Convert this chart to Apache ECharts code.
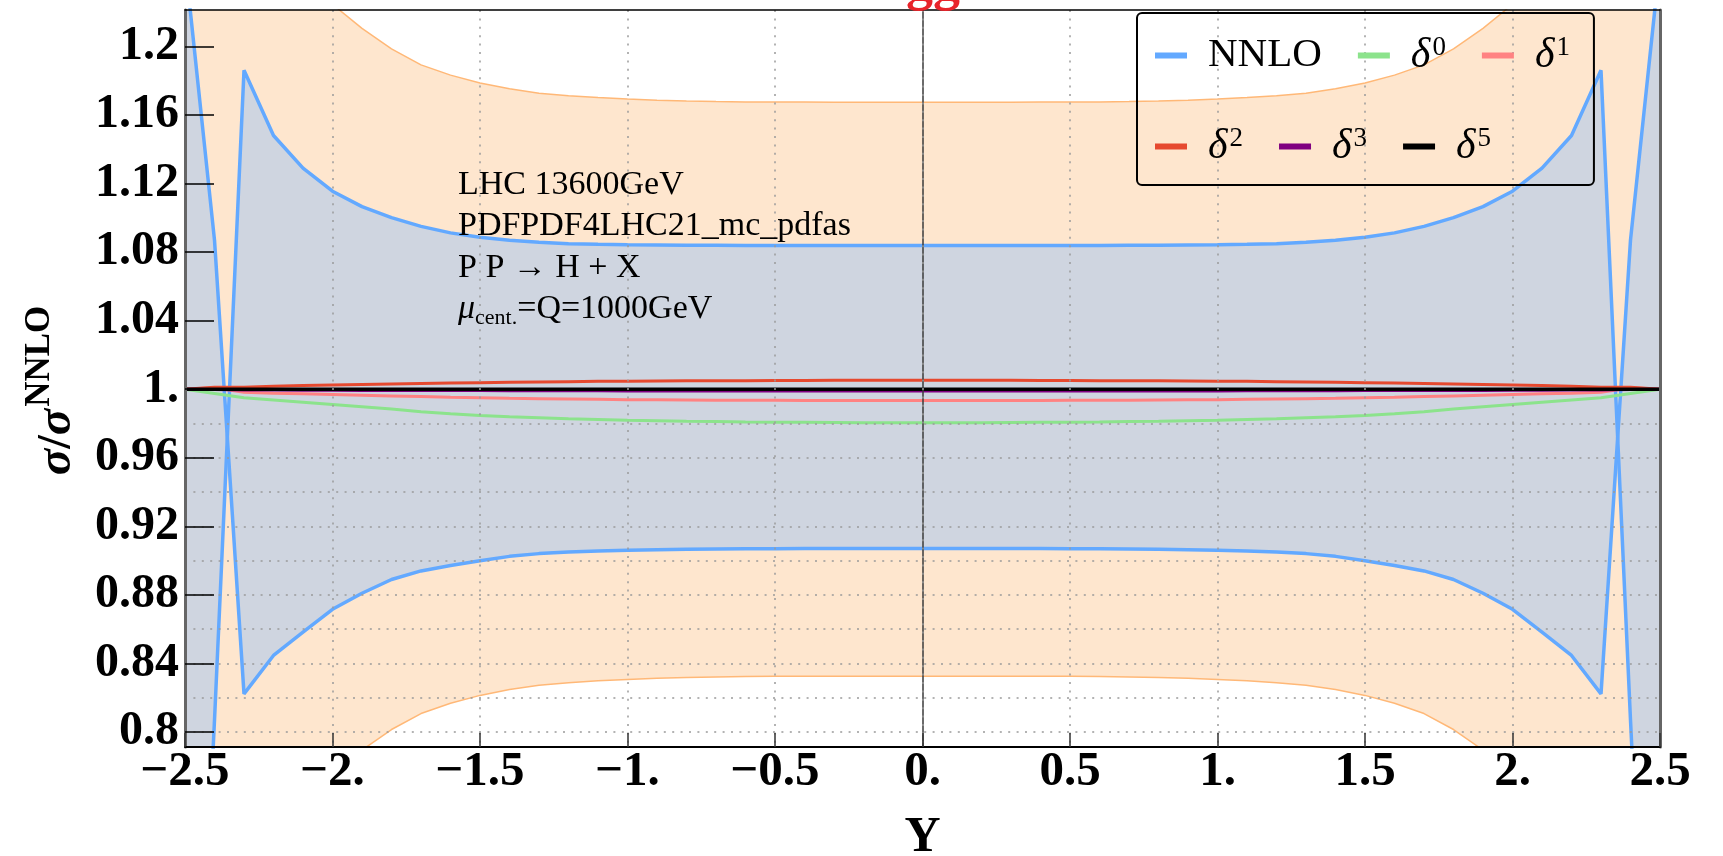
<!DOCTYPE html>
<html><head><meta charset="utf-8">
<script src="https://cdn.jsdelivr.net/npm/echarts@6.0.0/dist/echarts.min.js"></script>
<style>html,body{margin:0;padding:0;background:#fff}#c{width:1723px;height:856px}</style>
</head><body><div id="c"></div>
<script>
// ---------- data ----------
const xs = [-2.5,-2.4,-2.3,-2.2,-2.1,-2.0,-1.9,-1.8,-1.7,-1.6,-1.5,-1.4,-1.3,-1.2,-1.1,-1.0,-0.9,-0.8,-0.7,-0.6,-0.5,-0.4,-0.3,-0.2,-0.1,0,
            0.1,0.2,0.3,0.4,0.5,0.6,0.7,0.8,0.9,1.0,1.1,1.2,1.3,1.4,1.5,1.6,1.7,1.8,1.9,2.0,2.1,2.2,2.3,2.4,2.5];

// NNLO band edges
const nnloUpper = [0.45,0.807,1.186,1.148,1.129,1.1155,1.1065,1.1001,1.0950,1.0912,1.0887,1.0869,1.0857,1.0849,1.0845,1.0842,1.0841,1.0840,1.0840,1.0839,1.0839,1.0839,1.0839,1.0839,1.0839,1.0839,
                   1.0839,1.0839,1.0839,1.0839,1.0839,1.0839,1.0840,1.0840,1.0841,1.0842,1.0845,1.0849,1.0857,1.0869,1.0887,1.0912,1.0950,1.1001,1.1065,1.1155,1.129,1.148,1.186,0.807,0.45];
const nnloLower = [1.25,1.087,0.8223,0.8447,0.8583,0.8716,0.8810,0.8890,0.8940,0.8972,0.9000,0.9025,0.9041,0.9051,0.9057,0.9061,0.9064,0.9066,0.9068,0.9069,0.9070,0.9071,0.9071,0.9071,0.9071,0.9071,
                   0.9071,0.9071,0.9071,0.9071,0.9070,0.9069,0.9068,0.9066,0.9064,0.9061,0.9057,0.9051,0.9041,0.9025,0.9000,0.8972,0.8940,0.8890,0.8810,0.8716,0.8583,0.8447,0.8223,1.087,1.25];

// scale-variation band (orange)
const scaleUpper = [1.50,1.39,1.32,1.275,1.245,1.2245,1.2105,1.1985,1.1892,1.1832,1.1786,1.1752,1.1727,1.1712,1.1701,1.1693,1.1686,1.1681,1.1678,1.1676,1.1675,1.1675,1.1674,1.1674,1.1674,1.1674,
                    1.1674,1.1674,1.1674,1.1675,1.1675,1.1676,1.1678,1.1681,1.1686,1.1693,1.1701,1.1712,1.1727,1.1752,1.1786,1.1832,1.1892,1.1985,1.2105,1.2245,1.245,1.275,1.32,1.39,1.50];
const scaleLower = [0.50,0.61,0.68,0.725,0.755,0.7755,0.7895,0.8015,0.8108,0.8168,0.8214,0.8248,0.8273,0.8288,0.8299,0.8307,0.8314,0.8319,0.8322,0.8324,0.8325,0.8325,0.8326,0.8326,0.8326,0.8326,
                    0.8326,0.8326,0.8326,0.8325,0.8325,0.8324,0.8322,0.8319,0.8314,0.8307,0.8299,0.8288,0.8273,0.8248,0.8214,0.8168,0.8108,0.8015,0.7895,0.7755,0.755,0.725,0.68,0.61,0.50];

const delta0 = [1.0,0.9975,0.9950,0.9937,0.9924,0.9911,0.9898,0.9884,0.9869,0.9857,0.9847,0.9839,0.9833,0.9827,0.9823,0.9819,0.9816,0.9813,0.9811,0.9809,0.9808,0.9807,0.9806,0.9805,0.9805,0.9805,
                0.9805,0.9805,0.9806,0.9807,0.9808,0.9809,0.9811,0.9813,0.9816,0.9819,0.9823,0.9827,0.9833,0.9839,0.9847,0.9857,0.9869,0.9884,0.9898,0.9911,0.9924,0.9937,0.9950,0.9975,1.0];
const delta1 = [1.0,1.0008,0.9982,0.9977,0.9973,0.9969,0.9965,0.9961,0.9957,0.9953,0.9950,0.9947,0.9945,0.9943,0.9941,0.9939,0.9938,0.9937,0.9936,0.9935,0.9935,0.9934,0.9934,0.9934,0.9934,0.9934,
                0.9934,0.9934,0.9934,0.9934,0.9935,0.9935,0.9936,0.9937,0.9938,0.9939,0.9941,0.9943,0.9945,0.9947,0.9950,0.9953,0.9957,0.9961,0.9965,0.9969,0.9973,0.9977,0.9982,1.0008,1.0];
const delta2 = [1.0,1.0012,1.0012,1.0017,1.0021,1.0025,1.0028,1.0031,1.0034,1.0036,1.0038,1.0040,1.0042,1.0044,1.0046,1.0047,1.0048,1.0049,1.0050,1.0050,1.0051,1.0051,1.0052,1.0052,1.0052,1.0052,
                1.0052,1.0052,1.0052,1.0051,1.0051,1.0050,1.0050,1.0049,1.0048,1.0047,1.0046,1.0044,1.0042,1.0040,1.0038,1.0036,1.0034,1.0031,1.0028,1.0025,1.0021,1.0017,1.0012,1.0012,1.0];
const delta3 = [1.0,0.9998,0.9996,0.9995,0.9994,0.9994,0.9993,0.9993,0.9992,0.9992,0.9992,0.9991,0.9991,0.9991,0.9991,0.9990,0.9990,0.9990,0.9990,0.9990,0.9990,0.9990,0.9990,0.9990,0.9990,0.9990,
                0.9990,0.9990,0.9990,0.9990,0.9990,0.9990,0.9990,0.9990,0.9990,0.9990,0.9991,0.9991,0.9991,0.9991,0.9992,0.9992,0.9992,0.9993,0.9993,0.9994,0.9994,0.9995,0.9996,0.9998,1.0];
const delta5 = [1,1,1,1,1,1,1,1,1,1,1,1,1,1,1,1,1,1,1,1,1,1,1,1,1,1,
                1,1,1,1,1,1,1,1,1,1,1,1,1,1,1,1,1,1,1,1,1,1,1,1,1];

const xTicks = [-2.5,-2,-1.5,-1,-0.5,0,0.5,1,1.5,2,2.5];
const xTickLabels = ['\u22122.5','\u22122.','\u22121.5','\u22121.','\u22120.5','0.','0.5','1.','1.5','2.','2.5'];
const yTicks = [0.8,0.84,0.88,0.92,0.96,1.0,1.04,1.08,1.12,1.16,1.2];
const yTickLabels = ['0.8','0.84','0.88','0.92','0.96','1.','1.04','1.08','1.12','1.16','1.2'];
const yGrid = [0.8,0.82,0.84,0.86,0.88,0.9,0.92,0.94,0.96,0.98];

const annotations = ['LHC 13600GeV','PDFPDF4LHC21_mc_pdfas','P P \u2192 H + X'];
const topTitle = 'gg';

// ---------- helpers ----------
const SERIF = "'Liberation Serif', 'Times New Roman', serif";
function lookup(vals, labels) {
  return function (v) {
    for (let i = 0; i < vals.length; i++) if (Math.abs(vals[i] - v) < 1e-6) return labels[i];
    return '';
  };
}
function pairs(ys) { return xs.map((x, i) => [x, ys[i]]); }
function bandRender(lo, hi, fill) {
  return function (params, api) {
    if (params.dataIndex !== 0) return null;
    const pts = [];
    for (let i = 0; i < xs.length; i++) pts.push(api.coord([xs[i], hi[i]]));
    for (let i = xs.length - 1; i >= 0; i--) pts.push(api.coord([xs[i], lo[i]]));
    return { type: 'polygon', shape: { points: pts }, style: { fill: fill, stroke: null } };
  };
}
function lineSeries(name, ys, color, width, z) {
  return {
    name: name, type: 'line', data: pairs(ys), symbol: 'none', showSymbol: false, clip: true,
    lineStyle: { color: color, width: width }, itemStyle: { color: color }, z: z, silent: true
  };
}

const YMIN = 0.7913, YMAX = 1.2212;
const BLUE = '#63A9FF';

const chart = echarts.init(document.getElementById('c'), null, { renderer: 'canvas' });
const option = {
  animation: false,
  backgroundColor: '#fff',
  grid: { left: 185, right: 63, top: 10, bottom: 109, show: false, containLabel: false, outerBoundsMode: 'none' },
  xAxis: [
    {
      type: 'value', min: -2.5, max: 2.5, position: 'bottom', z: 6,
      axisLine: { show: true, onZero: false, lineStyle: { color: '#000', width: 2 } },
      axisTick: { show: true, inside: true, length: 14, customValues: xTicks, lineStyle: { color: '#333', width: 1.5 } },
      axisLabel: { customValues: xTicks, formatter: lookup(xTicks, xTickLabels), margin: 1,
                   fontFamily: SERIF, fontWeight: 'bold', fontSize: 49, color: '#000' },
      splitLine: { show: true, lineStyle: { color: '#9a9a9a', width: 1.5, type: [2, 6.4] } },
      name: 'Y', nameLocation: 'middle', nameGap: 66,
      nameTextStyle: { fontFamily: SERIF, fontWeight: 'bold', fontSize: 50, color: '#000' }
    },
    {
      type: 'value', min: -2.5, max: 2.5, position: 'top', z: 6,
      axisLine: { show: true, onZero: false, lineStyle: { color: '#000', width: 1.5 } },
      axisTick: { show: false }, axisLabel: { show: false }, splitLine: { show: false }
    }
  ],
  yAxis: [
    {
      type: 'value', min: YMIN, max: YMAX, position: 'left', z: 6,
      axisLine: { show: true, onZero: false, lineStyle: { color: '#666', width: 3 } },
      axisTick: { show: true, inside: true, length: 29, customValues: yTicks, lineStyle: { color: '#000', width: 1.5 } },
      axisLabel: { customValues: yTicks, formatter: lookup(yTicks, yTickLabels), margin: 6,
                   fontFamily: SERIF, fontWeight: 'bold', fontSize: 48, color: '#000' },
      splitLine: { show: false },
      name: '{i|\u03C3}{b|/}{i|\u03C3}{p|NNLO}', nameLocation: 'middle', nameGap: 103, nameRotate: 90,
      nameTextStyle: {
        color: '#000', padding: [0, 24, 0, 0],
        rich: {
          i: { fontFamily: SERIF, fontStyle: 'italic', fontWeight: 'bold', fontSize: 49, lineHeight: 60, verticalAlign: 'bottom' },
          b: { fontFamily: SERIF, fontWeight: 'bold', fontSize: 49, lineHeight: 60, verticalAlign: 'bottom' },
          p: { fontFamily: SERIF, fontWeight: 'bold', fontSize: 35, lineHeight: 34, verticalAlign: 'top', padding: [0, 0, 0, 2] }
        }
      }
    },
    {
      type: 'value', min: YMIN, max: YMAX, position: 'right', z: 6,
      axisLine: { show: true, onZero: false, lineStyle: { color: '#666', width: 3 } },
      axisTick: { show: false, customValues: yGrid },
      axisLabel: { show: false, customValues: yGrid },
      splitLine: { show: true, lineStyle: { color: '#9a9a9a', width: 1.5, type: [2, 6.4] } }
    }
  ],
  legend: {
    data: ['NNLO', '\u03B40', '\u03B41', '\u03B42', '\u03B43', '\u03B45'],
    left: 1137, top: 13, width: 430, orient: 'horizontal', z: 10,
    itemWidth: 32, itemHeight: 6, itemGap: 36, icon: 'rect',
    padding: [15, 24, 11, 18],
    borderColor: '#000', borderWidth: 2, borderRadius: 5, backgroundColor: 'transparent',
    selectedMode: false,
    formatter: function (name) {
      if (name === 'NNLO') return '{g| }{t|NNLO}';
      return '{g| }{d|\u03B4}{s|' + name.slice(1) + '}';
    },
    textStyle: {
      color: '#000', fontFamily: SERIF, fontSize: 41, lineHeight: 55,
      rich: {
        g: { width: 16, fontSize: 10, lineHeight: 55 },
        t: { fontFamily: SERIF, fontSize: 41, lineHeight: 55 },
        d: { fontFamily: SERIF, fontStyle: 'italic', fontSize: 42, lineHeight: 55 },
        s: { fontFamily: SERIF, fontSize: 27, lineHeight: 27, verticalAlign: 'top', padding: [6, 0, 0, 2] }
      }
    }
  },
  graphic: [
    { type: 'text', x: 933, y: 12, z: 20, style: { text: topTitle, font: 'bold 54px ' + SERIF, fill: '#E8242B', align: 'center', verticalAlign: 'bottom' } },
    { type: 'text', left: 458, top: 168, z: 20, style: { text: annotations[0], font: '34px ' + SERIF, fill: '#000' } },
    { type: 'text', left: 458, top: 209, z: 20, style: { text: annotations[1], font: '34px ' + SERIF, fill: '#000' } },
    { type: 'text', left: 458, top: 251, z: 20, style: { text: annotations[2], font: '34px ' + SERIF, fill: '#000' } },
    { type: 'text', left: 458, top: 292, z: 20, style: {
        text: '{m|\u03BC}{c|cent.}{n|=Q=1000GeV}', fill: '#000', font: '34px ' + SERIF,
        rich: {
          m: { fontFamily: SERIF, fontStyle: 'italic', fontSize: 34, lineHeight: 40 },
          c: { fontFamily: SERIF, fontSize: 22, lineHeight: 26, verticalAlign: 'bottom' },
          n: { fontFamily: SERIF, fontSize: 34, lineHeight: 40 }
        }
      } }
  ],
  series: [
    {
      name: 'scale band', type: 'custom', clip: true, z: 1, silent: true,
      data: xs.map((x, i) => [x, scaleLower[i], scaleUpper[i]]),
      encode: { x: 0, y: [1, 2] },
      renderItem: bandRender(scaleLower, scaleUpper, '#FEE6CE')
    },
    lineSeries('scale upper', scaleUpper, '#FFB877', 1.5, 1.5),
    lineSeries('scale lower', scaleLower, '#FFB877', 1.5, 1.5),
    {
      name: 'NNLO band', type: 'custom', clip: true, z: 2, silent: true,
      data: xs.map((x, i) => [x, nnloLower[i], nnloUpper[i]]),
      encode: { x: 0, y: [1, 2] },
      renderItem: bandRender(nnloLower, nnloUpper, '#CFD5E0')
    },
    lineSeries('NNLO', nnloUpper, BLUE, 3.5, 3),
    Object.assign(lineSeries('NNLO', nnloLower, BLUE, 3.5, 3), {
      markLine: {
        silent: true, symbol: 'none', label: { show: false },
        lineStyle: { type: 'solid', color: '#3a3a3a', width: 1.5 },
        data: [{ xAxis: 0 }]
      }
    }),
    lineSeries('\u03B40', delta0, '#8CE38C', 3, 4),
    lineSeries('\u03B41', delta1, '#FF8282', 3, 4),
    lineSeries('\u03B42', delta2, '#E6492F', 3, 4),
    lineSeries('\u03B43', delta3, '#800080', 3, 4),
    lineSeries('\u03B45', delta5, '#000000', 3.5, 4)
  ]
};
chart.setOption(option);
</script></body></html>
